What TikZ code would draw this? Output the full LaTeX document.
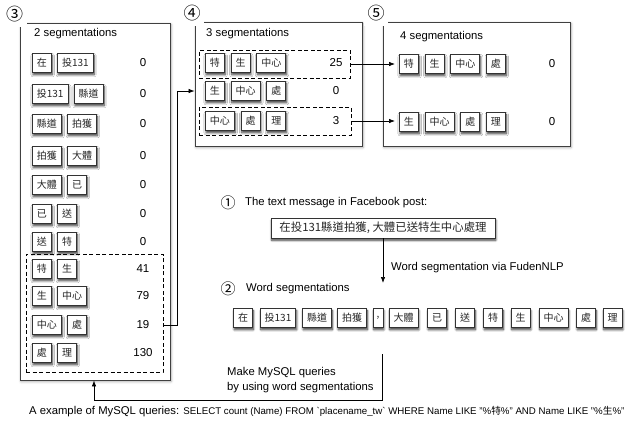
\documentclass[tikz,border=0pt]{standalone}
\usepackage{fontspec}
\setmainfont{Liberation Sans}
\newfontfamily\cjk{Noto Sans CJK TC}
\usetikzlibrary{positioning,shadows.blur,arrows.meta}

\tikzset{
  tok/.style={draw=black!80, line width=0.7pt, fill=white, text=black!85,
    font=\cjk\fontsize{10}{12}\selectfont, minimum height=19pt, minimum width=19pt,
    inner xsep=4.5pt, inner ysep=0pt,
    blur shadow={shadow xshift=0.8pt, shadow yshift=-2.2pt, shadow blur radius=2.2pt, shadow opacity=80, shadow blur steps=8}},
  panel/.style={draw=black!75, line width=0.8pt, fill=white, inner sep=0pt,
    blur shadow={shadow xshift=1pt, shadow yshift=-1.5pt, shadow blur radius=2.5pt, shadow opacity=35}},
  dbox/.style={draw=black, line width=0.9pt, dash pattern=on 4pt off 2.5pt, inner sep=0pt},
  cnt/.style={font=\fontsize{11.5}{13}\selectfont, inner sep=0pt},
  lbl/.style={font=\fontsize{11.3}{15}\selectfont, inner sep=0pt},
  circ/.style={font=\cjk\fontsize{17}{17}\selectfont, fill=white, minimum width=24pt, minimum height=24pt, inner sep=0pt},
  smallcirc/.style={font=\cjk\fontsize{15}{15}\selectfont, inner sep=0pt},
  arr/.style={-{Latex[length=6pt,width=4.5pt]}, line width=0.7pt},
}

\begin{document}
\begin{tikzpicture}[x=1pt, y=-1pt]
\useasboundingbox (0,0) rectangle (627,424);

% panels for 2, 3 and 4 segmentations
\node[panel, minimum width=150pt, minimum height=357pt] (b3) at (95,201.5) {};
\node[panel, minimum width=167pt, minimum height=124pt] (b4) at (278.5,84) {};
\node[panel, minimum width=187pt, minimum height=124pt] (b5) at (476.5,84) {};

\node[circ] (l3) at (14.5,14.5) {③};
\node[circ] (l4) at (192,13.5) {④};
\node[circ] (l5) at (376,13.5) {⑤};

\node[lbl, anchor=west] (t3) at (34,34) {2 segmentations};
\node[lbl, anchor=west] (t4) at (206,34) {3 segmentations};
\node[lbl, anchor=west] (t5) at (400,37) {4 segmentations};

% pairs of adjacent words
\foreach \i/\y/\p/\q/\n in {1/63/在/投131/0, 2/94/投131/縣道/0, 3/124/縣道/拍獲/0,
    4/156/拍獲/大體/0, 5/185/大體/已/0, 6/214/已/送/0, 7/242/送/特/0,
    8/269/特/生/41, 9/296/生/中心/79, 10/325/中心/處/19, 11/353/處/理/130} {
  \node[tok, anchor=west] (a\i x) at (32,\y) {\p};
  \node[tok, right=5.5pt of a\i x] (a\i y) {\q};
  \node[cnt] (a\i n) at (143,\y) {\n};
}
\node[dbox, minimum width=137pt, minimum height=118pt] (d3) at (94.5,313) {};

% triples
\foreach \i/\y/\p/\q/\r/\n in {1/63/特/生/中心/25, 2/91/生/中心/處/0, 3/121/中心/處/理/3} {
  \node[tok, anchor=west] (c\i a) at (205,\y) {\p};
  \node[tok, right=6pt of c\i a] (c\i b) {\q};
  \node[tok, right=6pt of c\i b] (c\i c) {\r};
  \node[cnt] (c\i n) at (336,\y) {\n};
}
\node[dbox, minimum width=151pt, minimum height=28pt] (d41) at (274.5,64) {};
\node[dbox, minimum width=152pt, minimum height=28pt] (d43) at (275,121) {};

% quadruples
\foreach \i/\y/\p/\q/\r/\s in {1/64/特/生/中心/處, 2/122/生/中心/處/理} {
  \node[tok, anchor=west] (e\i a) at (399,\y) {\p};
  \node[tok, right=6pt of e\i a] (e\i b) {\q};
  \node[tok, right=6pt of e\i b] (e\i c) {\r};
  \node[tok, right=6pt of e\i c] (e\i d) {\s};
  \node[cnt] (e\i n) at (552,\y) {0};
}

\draw[arr] (d3.east |- a10x) -- ++(14,0) |- (b4.west |- c2a);
\draw[arr, shorten >=4pt] (d41.east) -- (d41.east -| e1a.west);
\draw[arr, shorten >=4pt] (d43.east) -- (d43.east -| e2a.west);

% the post and its segmentation
\node[smallcirc] (n1) at (228,203) {①};
\node[lbl, anchor=west] (h1) at (245,203) {The text message in Facebook post:};
\node[tok, font=\cjk\fontsize{11.4}{13}\selectfont, minimum width=224pt, minimum height=20pt] (msg) at (383,228) {在投131縣道拍獲, 大體已送特生中心處理};
\coordinate (segtip) at (383,283);
\draw[arr] (msg.south) -- (segtip);
\node[lbl, anchor=west] (via) at (391,268) {Word segmentation via FudenNLP};
\node[smallcirc] (n2) at (228,289) {②};
\node[lbl, anchor=west] (h2) at (246,289) {Word segmentations};

\foreach \nm/\x/\t in {s1/243/在, s2/278/投131, s3/317/縣道, s4/352/拍獲, s6/403.5/大體,
    s7/437/已, s8/465/送, s9/493/特, s10/520.5/生, s11/553.5/中心, s12/586/處, s13/612.5/理} {
  \node[tok] (\nm) at (\x,318) {\t};
}
\node[tok, minimum width=10pt, inner xsep=2pt] (s5) at (378,318) {,};

% queries back to the pairs
\coordinate (q0) at (382,354);
\coordinate (q1) at (94,400);
\draw[arr] (q0) |- (q1) -- (q1 |- b3.south);
\node[lbl, anchor=west, align=left] (mk) at (227,380.5) {Make MySQL queries\\by using word segmentations};

\node[lbl, anchor=west] (sql) at (29,412) {A example of MySQL queries: {\fontsize{9.7}{12}\selectfont SELECT count (Name) FROM \textasciigrave placename\_tw\textasciigrave\ WHERE Name LIKE "\%{\cjk 特}\%" AND Name LIKE "\%{\cjk 生}\%"}};
\end{tikzpicture}
\end{document}
